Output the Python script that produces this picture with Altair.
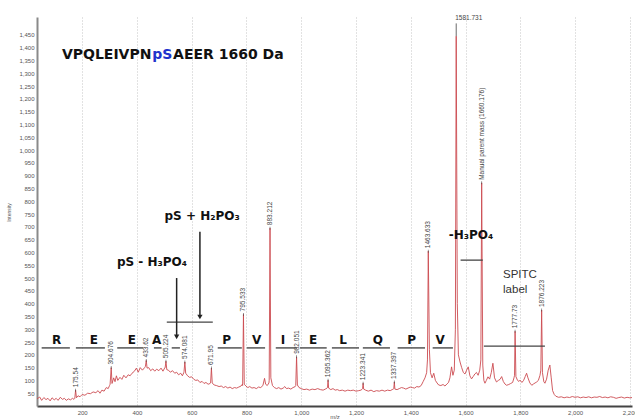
import altair as alt
import pandas as pd

# ---------------- data ----------------
spectrum = [
    (35, 28), (45, 35), (52, 22), (60, 33), (68, 25), (75, 30), (83, 20), (90, 32), (98, 24),
    (105, 30), (112, 22), (120, 34), (128, 26), (135, 30), (142, 22), (150, 28), (157, 24),
    (165, 30), (170, 26), (173, 30), (176, 62), (179, 32), (185, 40), (192, 36), (200, 45),
    (210, 42), (220, 50), (230, 48), (240, 55), (250, 52), (258, 60), (265, 50), (272, 62),
    (280, 58), (288, 72), (295, 68), (300, 80), (302, 85), (306, 150), (309, 88), (315, 110),
    (320, 95), (325, 118), (330, 100), (338, 112), (345, 104), (352, 120), (360, 110),
    (368, 122), (375, 118), (382, 128), (390, 135), (398, 148), (405, 132), (412, 150),
    (420, 140), (428, 150), (431, 155), (434, 178), (437, 148), (443, 150), (450, 138),
    (458, 145), (465, 136), (472, 144), (480, 138), (488, 148), (495, 136), (502, 150),
    (503, 150), (506, 175), (509, 142), (515, 140), (522, 132), (530, 138), (538, 128),
    (545, 132), (552, 122), (560, 128), (566, 118), (571, 130), (572, 135), (575, 172),
    (578, 128), (585, 118), (592, 112), (600, 114), (608, 104), (615, 100), (622, 102),
    (630, 92), (638, 96), (645, 88), (652, 92), (660, 85), (667, 88), (669, 90), (672, 148),
    (675, 90), (682, 82), (690, 80), (700, 76), (708, 78), (716, 72), (724, 76), (732, 70),
    (740, 74), (748, 68), (756, 72), (764, 70), (772, 74), (780, 78), (785, 85), (786, 80),
    (789, 358), (792, 85), (798, 78), (805, 72), (812, 76), (820, 70), (828, 72), (836, 68),
    (844, 74), (852, 72), (860, 80), (866, 108), (870, 85), (876, 80), (882, 90), (883, 100),
    (886, 695), (889, 110), (895, 80), (902, 72), (910, 68), (918, 72), (926, 66), (934, 70),
    (940, 76), (946, 68), (954, 70), (962, 66), (970, 72), (978, 76), (980, 80), (983, 192),
    (986, 82), (992, 72), (1000, 68), (1010, 64), (1020, 66), (1030, 62), (1040, 66),
    (1050, 64), (1060, 68), (1070, 64), (1080, 62), (1088, 66), (1094, 70), (1096, 72),
    (1098, 101), (1100, 70), (1108, 64), (1116, 68), (1124, 62), (1132, 64), (1140, 60),
    (1150, 62), (1160, 58), (1170, 62), (1180, 60), (1190, 62), (1200, 58), (1210, 60),
    (1218, 62), (1223, 66), (1224, 68), (1226, 89), (1228, 66), (1235, 62), (1245, 58),
    (1255, 62), (1265, 56), (1275, 60), (1285, 58), (1295, 62), (1305, 58), (1315, 62),
    (1325, 60), (1332, 64), (1336, 66), (1338, 68), (1340, 94), (1342, 66), (1350, 64),
    (1358, 68), (1366, 72), (1374, 70), (1382, 66), (1390, 70), (1398, 74), (1406, 72),
    (1414, 70), (1422, 76), (1430, 74), (1438, 80), (1445, 95), (1452, 110), (1458, 130),
    (1461, 180), (1464, 605), (1468, 220), (1472, 130), (1478, 110), (1484, 128), (1490, 100),
    (1496, 90), (1502, 82), (1510, 80), (1518, 84), (1525, 78), (1532, 86), (1538, 92),
    (1543, 110), (1549, 153), (1554, 120), (1559, 140), (1563, 300), (1566, 1445), (1570, 400),
    (1574, 200), (1580, 172), (1586, 150), (1592, 131), (1598, 125), (1604, 140), (1610, 153),
    (1616, 118), (1622, 106), (1628, 115), (1634, 125), (1640, 131), (1646, 120), (1652, 140),
    (1656, 180), (1659, 872), (1663, 160), (1667, 100), (1671, 89), (1676, 100), (1682, 114),
    (1688, 105), (1694, 130), (1700, 167), (1706, 110), (1713, 94), (1720, 100), (1726, 104),
    (1732, 115), (1738, 96), (1744, 86), (1750, 81), (1758, 84), (1765, 88), (1772, 92),
    (1777, 110), (1779, 120), (1781, 292), (1784, 115), (1790, 100), (1795, 96), (1799, 101),
    (1806, 92), (1812, 100), (1818, 115), (1823, 128), (1828, 110), (1835, 90), (1842, 81),
    (1848, 86), (1854, 90), (1860, 94), (1866, 100), (1872, 120), (1875, 140), (1878, 375),
    (1881, 130), (1886, 95), (1890, 89), (1896, 105), (1902, 140), (1908, 160), (1913, 110),
    (1918, 60), (1924, 45), (1930, 38), (1940, 34), (1950, 36), (1960, 32), (1970, 35),
    (1980, 33), (1990, 37), (2000, 34), (2010, 36), (2020, 32), (2030, 35), (2040, 33),
    (2050, 36), (2060, 32), (2070, 35), (2080, 34), (2090, 37), (2100, 33), (2110, 35),
    (2120, 32), (2130, 36), (2140, 34), (2150, 30), (2160, 33), (2170, 35), (2180, 31),
    (2190, 34), (2200, 32), (2208, 33),
]

peak_mz = [176, 306, 434, 506, 575, 672, 789, 886, 983, 1098, 1226, 1340, 1464, 1659, 1781, 1878]
peak_top = [62, 150, 178, 175, 172, 148, 358, 695, 192, 101, 89, 94, 605, 872, 292, 375]
peak_text = ["175.54", "304.676", "433.62", "505.224", "574.081", "671.95", "795.533",
             "883.212", "982.051", "1095.362", "1223.341", "1337.397", "1463.633",
             "Manual parent mass (1660.176)", "1777.73", "1876.223"]

base_peak_mz = 1566
base_peak_top = 1445
base_peak_text = "1581.731"

residues = ["R", "E", "E", "A", "P", "V", "I", "E", "L", "Q", "P", "V"]
residue_mz = [107, 243, 381, 472, 728, 837, 933, 1043, 1153, 1280, 1403, 1507]
residue_seg_start = [52, 177, 328, 462, 527, 695, 801, 907, 995, 1112, 1225, 1352, 1480]
residue_seg_end = [155, 283, 423, 490, 557, 783, 868, 984, 1093, 1211, 1324, 1452, 1554]

title_parts = ["VPQLEIVPN", "pS", "AEER 1660 Da"]
title_mz = [126, 456, 532]
title_colors = ["#111111", "#2233cc", "#111111"]

x_ticks = [200, 400, 600, 800, 1000, 1200, 1400, 1600, 1800, 2000, 2200]
y_ticks = list(range(50, 1500, 50))

# ---------------- tables ----------------
spec_df = pd.DataFrame(spectrum, columns=["mz", "val"])
peaks_df = pd.DataFrame({"mz": peak_mz, "val": peak_top, "label": peak_text})
base_df = pd.DataFrame({"mz": [base_peak_mz], "val": [base_peak_top], "val2": [1495],
                        "ty": [1516], "label": [base_peak_text]})
res_df = pd.DataFrame({"mz": residue_mz, "val": [258] * len(residues), "label": residues})
seg_df = pd.DataFrame({"mz": residue_seg_start, "mz2": residue_seg_end,
                       "val": [227] * len(residue_seg_start)})
title_df = pd.DataFrame({"mz": title_mz, "val": [1372] * 3, "label": title_parts,
                         "color": title_colors})
bold_ann = pd.DataFrame({"mz": [455, 638, 1620], "val": [563, 742, 668],
                         "label": ["pS - H₃PO₄", "pS + H₂PO₃", "-H₃PO₄"]})
spitc_df = pd.DataFrame({"mz": [1737, 1737], "val": [512, 453], "label": ["SPITC", "label"]})
hline_df = pd.DataFrame({"mz": [509, 1582, 1667], "mz2": [677, 1663, 1890],
                         "val": [328, 570, 234]})
arrow_df = pd.DataFrame({"mz": [545, 630], "val": [500, 681], "val2": [270, 348]})

X_SCALE = alt.Scale(domain=[35, 2208], nice=False, zero=False)
Y_SCALE = alt.Scale(domain=[0, 1520], nice=False, zero=True)

X_AXIS = alt.Axis(values=x_ticks, format=",.0f", labelFontSize=6, labelColor="#555",
                  titleFontSize=6, titleColor="#555", titleFontWeight="normal",
                  titleY=12, titleBaseline="alphabetic", labelPadding=3, ticks=False,
                  domainColor="#444", domainWidth=2,
                  grid=True, gridColor="#c4c4c4", gridDash=[1, 2], gridWidth=1)
Y_AXIS = alt.Axis(values=y_ticks, format=",.0f", labelFontSize=6, labelColor="#555",
                  titleFontSize=5, titleColor="#555", titleFontWeight="normal",
                  titleX=-26, titleY=195, ticks=False, labelPadding=3,
                  domainColor="#8a8a8a", domainWidth=2, grid=False)


def xq(field="mz"):
    return alt.X(f"{field}:Q", scale=X_SCALE, title="m/z", axis=X_AXIS)


def yq(field="val"):
    return alt.Y(f"{field}:Q", scale=Y_SCALE, title="Intensity", axis=Y_AXIS)


line = alt.Chart(spec_df).mark_line(color="#cc4b50", strokeWidth=0.9).encode(
    x=xq(), y=yq())

peak_labels = alt.Chart(peaks_df).mark_text(
    angle=270, align="left", baseline="middle", dx=3, fontSize=6.5,
    font="Liberation Sans", color="#444"
).encode(x=xq(), y=yq(), text="label:N")

peak_ticks = alt.Chart(peaks_df).mark_tick(
    orient="vertical", size=3, thickness=0.8, color="#444"
).encode(x=xq(), y=yq())

base_rule = alt.Chart(base_df).mark_rule(color="#444", strokeWidth=0.8).encode(
    x=xq(), y=yq(), y2="val2:Q")
base_label = alt.Chart(base_df).mark_text(
    align="left", baseline="middle", dx=-1, fontSize=6.5, font="Liberation Sans", color="#444"
).encode(x=xq(), y=yq("ty"), text="label:N")

res_text = alt.Chart(res_df).mark_text(
    fontSize=12, fontWeight="bold", font="DejaVu Sans", color="#111"
).encode(x=xq(), y=yq(), text="label:N")

res_segs = alt.Chart(seg_df).mark_rule(color="#555", strokeWidth=1.5).encode(
    x=xq(), x2="mz2:Q", y=yq())

title = alt.Chart(title_df).mark_text(
    align="left", baseline="middle", fontSize=14, fontWeight="bold", font="DejaVu Sans"
).encode(x=xq(), y=yq(), text="label:N", color=alt.Color("color:N", scale=None))

bold_text = alt.Chart(bold_ann).mark_text(
    fontSize=12, fontWeight="bold", font="DejaVu Sans", color="#111"
).encode(x=xq(), y=yq(), text="label:N")

spitc = alt.Chart(spitc_df).mark_text(
    align="left", baseline="middle", fontSize=11.5, font="Liberation Sans", color="#333"
).encode(x=xq(), y=yq(), text="label:N")

hlines = alt.Chart(hline_df).mark_rule(color="#444", strokeWidth=1.3).encode(
    x=xq(), x2="mz2:Q", y=yq())

arrows = alt.Chart(arrow_df).mark_rule(color="#222", strokeWidth=1.5).encode(
    x=xq(), y=yq(), y2="val2:Q")
arrow_heads = alt.Chart(arrow_df).mark_point(
    shape="triangle-down", filled=True, size=28, color="#222", opacity=1
).encode(x=xq(), y=yq("val2"))

chart = alt.layer(
    line, peak_ticks, peak_labels, base_rule, base_label, res_segs, res_text, title,
    bold_text, spitc, hlines, arrows, arrow_heads
).properties(
    width=595, height=389,
    autosize=alt.AutoSizeParams(type="none"),
    padding={"left": 37, "top": 17, "right": 3, "bottom": 13},
    background="white",
).configure_view(strokeWidth=0)

chart.save("out.html", embed_options={"renderer": "svg", "actions": False})
